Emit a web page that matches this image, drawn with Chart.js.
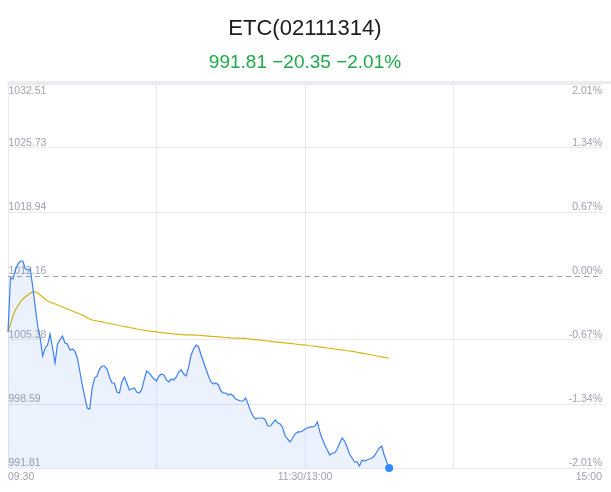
<!DOCTYPE html>
<html>
<head>
<meta charset="utf-8">
<script src="https://cdn.jsdelivr.net/npm/chart.js@4.4.0/dist/chart.umd.min.js"></script>
<style>
  html, body { margin: 0; padding: 0; background: #fff; }
  #chart { display: block; }
</style>
</head>
<body>
<canvas id="chart" width="611" height="492"></canvas>
<script>
const titleText = 'ETC(02111314)';
const subtitleText = '991.81 \u221220.35 \u22122.01%';
const prevClose = 1012.16;

// price ticks (left) and pct ticks (right)
const yTicks = [991.81, 998.59, 1005.38, 1012.16, 1018.94, 1025.73, 1032.51];
const pctLabels = ['-2.01%', '-1.34%', '-0.67%', '0.00%', '0.67%', '1.34%', '2.01%'];

// minutes from 09:30, 240 = 15:00 (lunch break removed)
const xTicks = [0, 120, 240];
const xLabels = ['09:30', '11:30/13:00', '15:00'];
const xGrid = [0, 60, 120, 180, 240];

// one value per minute
const prices = [
    1006.23, 1011.95, 1011.84, 1012.80, 1013.43, 1013.75, 1013.75, 1012.90, 1012.80, 1012.90,
    1011.00, 1008.88, 1006.86, 1005.59, 1003.68, 1004.53, 1004.85, 1006.01, 1004.53, 1002.94,
    1004.95, 1005.38, 1005.80, 1005.06, 1004.95, 1004.32, 1004.42, 1004.21, 1003.47, 1002.09,
    1000.61, 999.34, 998.17, 998.06, 1000.29, 1001.35, 1001.56, 1002.30, 1002.62, 1002.62,
    1002.30, 1001.46, 1000.82, 1000.82, 999.87, 999.76, 1000.93, 1001.46, 1000.82, 1000.08,
    1000.18, 1000.29, 999.87, 999.76, 1000.08, 1001.14, 1002.09, 1001.88, 1001.56, 1001.24,
    1001.03, 1001.56, 1001.77, 1001.67, 1001.14, 1000.93, 1001.24, 1001.14, 1001.46, 1001.99,
    1002.20, 1001.77, 1001.56, 1002.52, 1003.79, 1004.42, 1004.85, 1004.64, 1003.79, 1003.05,
    1002.30, 1001.56, 1000.93, 1000.71, 1000.82, 1000.61, 999.97, 999.76, 999.76, 999.55,
    999.65, 999.44, 999.12, 999.02, 998.91, 998.91, 999.23, 998.59, 997.85, 997.32,
    997.00, 997.11, 997.11, 997.11, 996.90, 996.26, 996.26, 996.58, 996.90, 996.58,
    996.47, 996.05, 995.20, 994.88, 994.57, 994.99, 995.41, 995.63, 995.63, 995.73,
    995.94, 996.05, 996.16, 996.16, 996.26, 996.69, 995.63, 994.88, 994.25, 993.72,
    993.19, 993.40, 993.40, 993.82, 994.46, 994.99, 994.67, 994.04, 993.29, 992.87,
    992.45, 992.45, 992.02, 992.66, 992.55, 992.66, 992.76, 992.87, 993.08, 993.51,
    993.93, 994.14, 993.19, 992.45, 991.81
];

const avgPrices = [
    1006.23, 1007.07, 1007.92, 1008.56, 1008.98, 1009.41, 1009.72, 1009.94, 1010.15, 1010.36,
    1010.47, 1010.47, 1010.36, 1010.15, 1009.94, 1009.72, 1009.51, 1009.41, 1009.30, 1009.19,
    1009.09, 1008.98, 1008.88, 1008.77, 1008.66, 1008.56, 1008.45, 1008.35, 1008.24, 1008.13,
    1008.03, 1007.92, 1007.71, 1007.60, 1007.50, 1007.45, 1007.39, 1007.34, 1007.29, 1007.23,
    1007.18, 1007.13, 1007.07, 1007.02, 1006.97, 1006.91, 1006.86, 1006.81, 1006.76, 1006.70,
    1006.65, 1006.60, 1006.54, 1006.49, 1006.44, 1006.41, 1006.37, 1006.33, 1006.30, 1006.27,
    1006.23, 1006.19, 1006.16, 1006.13, 1006.10, 1006.07, 1006.05, 1006.01, 1005.99, 1005.97,
    1005.95, 1005.94, 1005.93, 1005.92, 1005.91, 1005.90, 1005.89, 1005.88, 1005.86, 1005.83,
    1005.81, 1005.79, 1005.77, 1005.75, 1005.73, 1005.71, 1005.69, 1005.67, 1005.64, 1005.62,
    1005.60, 1005.59, 1005.58, 1005.57, 1005.56, 1005.55, 1005.54, 1005.51, 1005.47, 1005.44,
    1005.41, 1005.38, 1005.35, 1005.33, 1005.30, 1005.27, 1005.24, 1005.21, 1005.18, 1005.15,
    1005.12, 1005.09, 1005.06, 1005.04, 1005.01, 1004.98, 1004.95, 1004.92, 1004.90, 1004.87,
    1004.85, 1004.82, 1004.77, 1004.74, 1004.71, 1004.67, 1004.64, 1004.60, 1004.56, 1004.53,
    1004.50, 1004.46, 1004.42, 1004.39, 1004.35, 1004.32, 1004.29, 1004.24, 1004.21, 1004.18,
    1004.14, 1004.08, 1004.04, 1003.99, 1003.94, 1003.89, 1003.84, 1003.79, 1003.73, 1003.68,
    1003.63, 1003.58, 1003.53, 1003.48, 1003.44
];

const labelFont = "10.5px 'Liberation Sans', Arial, sans-serif";
const labelColor = '#9ea1b2';

// axis labels sit inside the plot, plus the dashed prev-close line
const overlayPlugin = {
    id: 'overlay',
    beforeDraw(chart) {
        const c = chart.ctx;
        c.save();
        c.fillStyle = '#ebebf0';
        c.fillRect(7, chart.chartArea.top - 3, chart.width - 7, 3);
        c.restore();
    },
    beforeDatasetsDraw(chart) {
        const c = chart.ctx;
        const area = chart.chartArea;
        const x = chart.scales.x;
        const y = chart.scales.y;
        c.save();

        // prev close
        const py = Math.round(y.getPixelForValue(prevClose)) + 0.5;
        c.strokeStyle = '#9aa1b6';
        c.lineWidth = 1;
        c.setLineDash([5, 4]);
        c.beginPath();
        c.moveTo(area.left, py);
        c.lineTo(area.right, py);
        c.stroke();
        c.setLineDash([]);

        c.font = labelFont;
        c.fillStyle = labelColor;
        yTicks.forEach((v, i) => {
            const ty = y.getPixelForValue(v);
            const top = i === yTicks.length - 1;
            c.textBaseline = top ? 'top' : 'alphabetic';
            const yy = top ? ty + 2 : ty - 2;
            c.textAlign = 'left';
            c.fillText(v.toFixed(2), area.left + 0.5, yy);
            c.textAlign = 'right';
            c.fillText(pctLabels[i], area.right, yy);
        });

        c.textBaseline = 'alphabetic';
        xTicks.forEach((t, i) => {
            const tx = x.getPixelForValue(t);
            c.textAlign = i === 0 ? 'left' : (i === xTicks.length - 1 ? 'right' : 'center');
            c.fillText(xLabels[i], tx, area.bottom + 11.5);
        });
        c.restore();
    }
};

const ctx = document.getElementById('chart');
new Chart(ctx, {
    type: 'line',
    data: {
        datasets: [{
            label: 'price',
            data: prices.map((v, i) => ({ x: i, y: v })),
            borderColor: '#3d80ee',
            borderWidth: 1.2,
            backgroundColor: 'rgba(61, 128, 238, 0.1)',
            fill: 'start',
            tension: 0,
            clip: false,
            pointRadius: (c) => c.dataIndex === prices.length - 1 ? 4 : 0,
            pointBackgroundColor: '#2f8bff',
            pointBorderWidth: 0,
            order: 1
        }, {
            label: 'avg',
            data: avgPrices.map((v, i) => ({ x: i, y: v })),
            borderColor: '#d4b70f',
            borderWidth: 1.2,
            fill: false,
            tension: 0,
            pointRadius: 0,
            order: 2
        }]
    },
    options: {
        responsive: false,
        animation: false,
        devicePixelRatio: 1,
        layout: { padding: { left: 8, right: 9, bottom: 24, top: 0 } },
        plugins: {
            legend: { display: false },
            tooltip: { enabled: false },
            title: {
                display: true,
                text: titleText,
                color: '#1c1c20',
                font: { family: "'Liberation Sans', Arial, sans-serif", size: 22, weight: 'normal' },
                padding: { top: 16, bottom: 0 }
            },
            subtitle: {
                display: true,
                text: subtitleText,
                color: '#1eaa4b',
                font: { family: "'Liberation Sans', Arial, sans-serif", size: 19, weight: 'normal' },
                padding: { top: 9, bottom: 9.8 }
            }
        },
        scales: {
            x: {
                type: 'linear',
                min: 0,
                max: 240,
                afterBuildTicks: (scale) => { scale.ticks = xGrid.map(v => ({ value: v })); },
                ticks: { display: false },
                grid: {
                    drawTicks: false,
                    color: (c) => c.tick && c.tick.value === 240 ? 'rgba(0,0,0,0)' : '#e9e9ee'
                },
                border: { display: false }
            },
            y: {
                min: yTicks[0],
                max: yTicks[yTicks.length - 1],
                afterBuildTicks: (scale) => { scale.ticks = yTicks.map(v => ({ value: v })); },
                ticks: { display: false },
                grid: {
                    drawTicks: false,
                    color: (c) => c.tick && c.tick.value === prevClose ? 'rgba(0,0,0,0)' : '#e9e9ee'
                },
                border: { display: false }
            }
        }
    },
    plugins: [overlayPlugin]
});
</script>
</body>
</html>
